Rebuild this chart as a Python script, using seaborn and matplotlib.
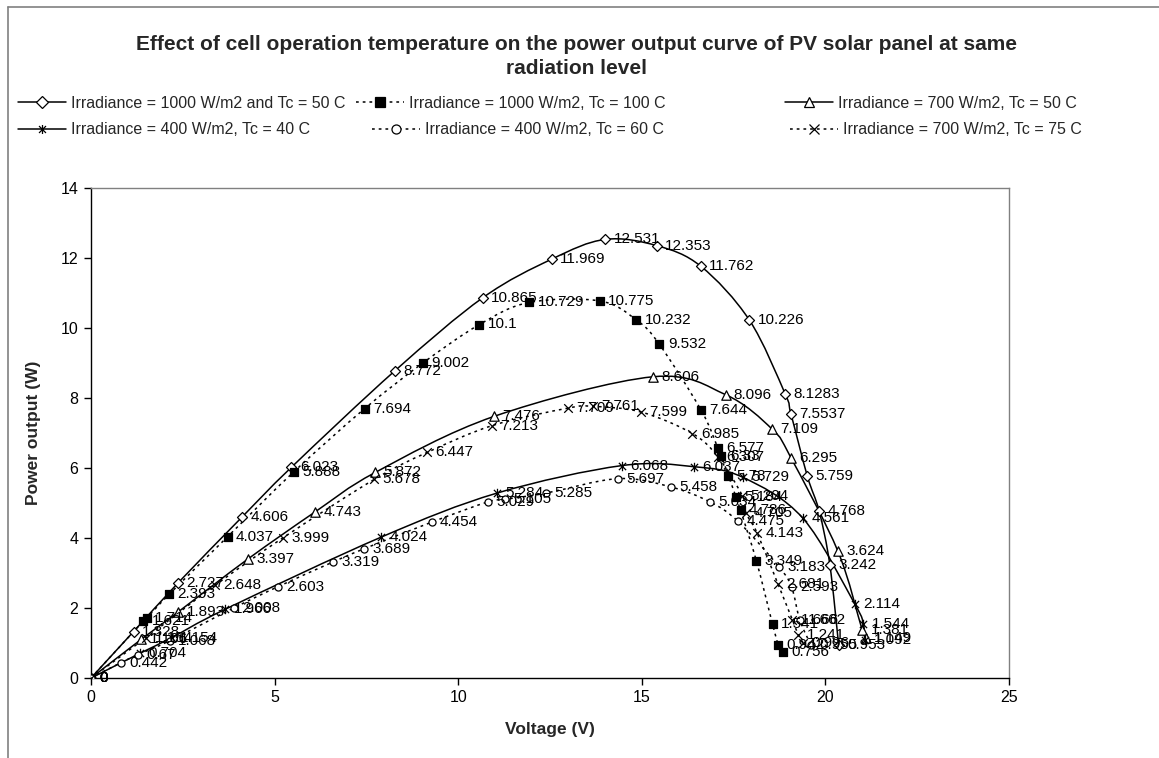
import numpy as np
import matplotlib
matplotlib.use("Agg")
import matplotlib.pyplot as plt
from matplotlib.path import Path
from matplotlib.patches import PathPatch
from matplotlib.lines import Line2D
import seaborn as sns

# ---- data: voltage (V) and power (W) for each operating condition ----
name_1000_50 = "Irradiance = 1000 W/m2 and Tc = 50 C"
v_1000_50 = [0, 1.16, 2.38, 4.12, 5.46, 8.27, 10.67, 12.55, 14.0, 15.41, 16.61,
             17.93, 18.9, 19.06, 19.51, 19.83, 20.12, 20.36]
p_1000_50 = [0, 1.328, 2.727, 4.606, 6.023, 8.772, 10.865, 11.969, 12.531, 12.353,
             11.762, 10.226, 8.1283, 7.5537, 5.759, 4.768, 3.242, 0.953]

name_1000_100 = "Irradiance = 1000 W/m2, Tc = 100 C"
v_1000_100 = [0, 1.42, 1.52, 2.13, 3.72, 5.52, 7.45, 9.04, 10.58, 11.93, 13.85,
              14.85, 15.48, 16.62, 17.07, 17.17, 17.36, 17.56, 17.69, 18.12, 18.56,
              18.72, 18.84]
p_1000_100 = [0, 1.621, 1.714, 2.393, 4.037, 5.888, 7.694, 9.002, 10.1, 10.729,
              10.775, 10.232, 9.532, 7.644, 6.577, 6.33, 5.78, 5.184, 4.786, 3.349,
              1.541, 0.942, 0.756]

name_700_50 = "Irradiance = 700 W/m2, Tc = 50 C"
v_700_50 = [0, 1.37, 2.38, 4.27, 6.1, 7.74, 10.98, 15.3, 17.28, 18.55, 19.06,
            20.34, 21.0, 21.1]
p_700_50 = [0, 1.106, 1.893, 3.397, 4.743, 5.872, 7.476, 8.606, 8.096, 7.109,
            6.295, 3.624, 1.381, 1.149]

name_400_40 = "Irradiance = 400 W/m2, Tc = 40 C"
v_400_40 = [0, 1.33, 2.2, 3.66, 7.9, 11.06, 14.45, 16.42, 17.76, 19.39, 20.8,
            21.03, 21.08]
p_400_40 = [0, 0.704, 1.154, 1.966, 4.024, 5.284, 6.068, 6.037, 5.729, 4.561,
            2.114, 1.544, 1.092]

name_400_60 = "Irradiance = 400 W/m2, Tc = 60 C"
v_400_60 = [0, 0.82, 1.29, 2.15, 3.9, 5.08, 6.6, 7.43, 9.28, 10.8, 11.28, 12.4,
            14.36, 15.79, 16.85, 17.62, 18.73, 19.08, 19.3, 19.6]
p_400_60 = [0, 0.442, 0.67, 1.068, 2.008, 2.603, 3.319, 3.689, 4.454, 5.029,
            5.105, 5.285, 5.697, 5.458, 5.034, 4.475, 3.183, 2.593, 1.662, 0.955]

name_700_75 = "Irradiance = 700 W/m2, Tc = 75 C"
v_700_75 = [0, 1.5, 3.38, 5.22, 7.72, 9.16, 10.93, 12.98, 13.66, 14.98, 16.38,
            17.08, 17.74, 17.84, 18.14, 18.71, 19.1, 19.26, 19.4]
p_700_75 = [0, 1.154, 2.648, 3.999, 5.678, 6.447, 7.213, 7.709, 7.761, 7.599,
            6.985, 6.307, 5.204, 4.705, 4.143, 2.681, 1.666, 1.241, 0.996]

x_ticks = [0, 5, 10, 15, 20, 25]
y_ticks = [0, 2, 4, 6, 8, 10, 12, 14]
title_lines = ["Effect of cell operation temperature on the power output curve of PV solar panel at same",
               "radiation level"]

# ---- style ----
sns.set_theme(style="ticks")
plt.rcParams['font.family'] = ['Liberation Sans', 'DejaVu Sans']

# six-armed star marker: an X with a vertical bar through it
star_marker = Path([(-1, -1), (1, 1), (-1, 1), (1, -1), (0, -1.3), (0, 1.3)],
                   [Path.MOVETO, Path.LINETO, Path.MOVETO, Path.LINETO,
                    Path.MOVETO, Path.LINETO])

dotted = (0, (1.8, 2.6))
series = [
    dict(name=name_1000_50, v=v_1000_50, p=p_1000_50, marker="D", s=26, face="white", ls="-"),
    dict(name=name_1000_100, v=v_1000_100, p=p_1000_100, marker="s", s=36, face="black", ls=dotted),
    dict(name=name_700_50, v=v_700_50, p=p_700_50, marker="^", s=46, face="white", ls="-"),
    dict(name=name_400_40, v=v_400_40, p=p_400_40, marker=star_marker, s=46, face="none", ls="-"),
    dict(name=name_400_60, v=v_400_60, p=p_400_60, marker="o", s=26, face="white", ls=dotted),
    dict(name=name_700_75, v=v_700_75, p=p_700_75, marker="x", s=38, face="black", ls=dotted),
]


def smooth_path(x, y):
    """Cubic Bezier curve through the points (Catmull-Rom style smoothing)."""
    pts = np.column_stack([x, y]).astype(float)
    n = len(pts)
    verts = [pts[0]]
    codes = [Path.MOVETO]
    for i in range(n - 1):
        p0 = pts[i - 1] if i > 0 else pts[i]
        p1 = pts[i]
        p2 = pts[i + 1]
        p3 = pts[i + 2] if i + 2 < n else pts[i + 1]
        verts += [p1 + (p2 - p0) / 6.0, p2 - (p3 - p1) / 6.0, p2]
        codes += [Path.CURVE4] * 3
    return Path(verts, codes)


W, H = 1159, 758
fig = plt.figure(figsize=(W / 100, H / 100), dpi=100)
fig.patch.set_facecolor("white")
ax = fig.add_axes([91 / W, (H - 678) / H, (1009 - 91) / W, (678 - 188) / H])
ax.set_facecolor("white")

handles = []
for sr in series:
    ax.add_patch(PathPatch(smooth_path(sr["v"], sr["p"]), fill=False, edgecolor="black",
                           linewidth=1.1, linestyle=sr["ls"], zorder=2,
                           transform=ax.transData))
    sns.scatterplot(x=sr["v"], y=sr["p"], marker=sr["marker"], s=sr["s"],
                    color=sr["face"] if sr["face"] != "none" else "black",
                    edgecolor="black", linewidth=0.9, ax=ax, zorder=3, legend=False)
    for v, p in zip(sr["v"], sr["p"]):
        ax.annotate(f"{p:g}", (v, p), xytext=(6, 0), textcoords="offset points",
                    ha="left", va="center", fontsize=11, color="black", zorder=4)
    handles.append(Line2D([], [], color="black", linewidth=1.1, linestyle=sr["ls"],
                          marker=sr["marker"], markersize=6.5,
                          markerfacecolor=sr["face"] if sr["marker"] != "x" else "black",
                          markeredgecolor="black", markeredgewidth=0.9, label=sr["name"]))

ax.set_xlim(0, 25)
ax.set_ylim(0, 14)
ax.set_xticks(x_ticks)
ax.set_yticks(y_ticks)
ax.tick_params(direction="out", length=5, width=1, colors="black", labelsize=11.5, pad=4)
for side in ("left", "bottom"):
    ax.spines[side].set_color("black")
    ax.spines[side].set_linewidth(1.0)
for side in ("top", "right"):
    ax.spines[side].set_visible(True)
    ax.spines[side].set_color("#808080")
    ax.spines[side].set_linewidth(1.0)
ax.set_xlabel("Voltage (V)", fontsize=12.5, fontweight="bold", labelpad=12)
ax.set_ylabel("Power output (W)", fontsize=12.5, fontweight="bold", labelpad=14)

# title
fig.text(0.497, 1 - 45 / H, title_lines[0], ha="center", va="center",
         fontsize=15, fontweight="bold")
fig.text(0.497, 1 - 68 / H, title_lines[1], ha="center", va="center",
         fontsize=15, fontweight="bold")

# legend entries laid out in two rows of three
legend_slots = [(18, 103), (356, 103), (785, 103), (18, 130), (372, 130), (790, 130)]
for h, (lx, ly) in zip(handles, legend_slots):
    fig.legend(handles=[h], frameon=False, fontsize=11.5, loc="center left",
               bbox_to_anchor=(lx / W, 1 - ly / H), bbox_transform=fig.transFigure,
               handlelength=3.0, handletextpad=0.3, borderpad=0, borderaxespad=0)

# chart area border
fig.add_artist(Line2D([8 / W, 1], [1 - 7 / H, 1 - 7 / H], transform=fig.transFigure,
                      color="#808080", linewidth=1.2))
fig.add_artist(Line2D([8 / W, 8 / W], [0, 1 - 7 / H], transform=fig.transFigure,
                      color="#808080", linewidth=1.2))

fig.savefig("out.png", dpi=100, facecolor="white")
